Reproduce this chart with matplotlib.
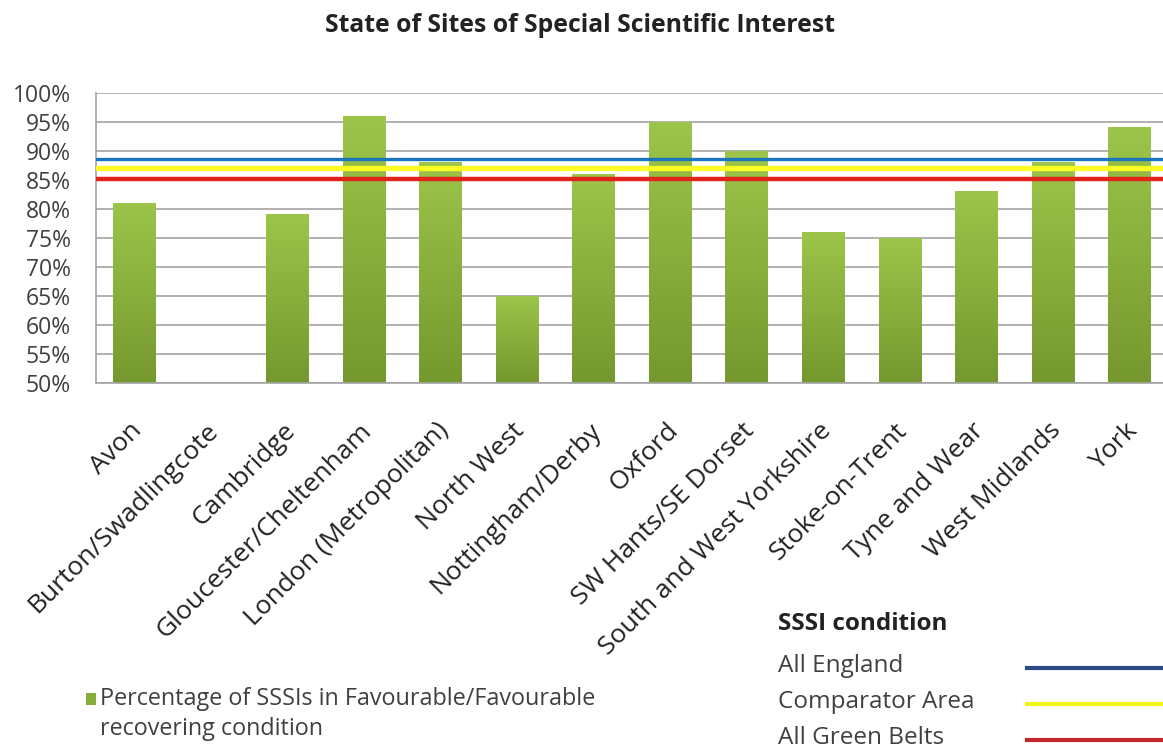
import matplotlib
matplotlib.use("Agg")
import matplotlib.pyplot as plt
import numpy as np
from matplotlib.colors import LinearSegmentedColormap
from matplotlib.lines import Line2D
from matplotlib.patches import Rectangle
from matplotlib.transforms import ScaledTranslation

plt.rcParams["font.family"] = ["Open Sans", "DejaVu Sans"]

# --- data --------------------------------------------------------------------
areas = ["Avon", "Burton/Swadlingcote", "Cambridge", "Gloucester/Cheltenham",
         "London (Metropolitan)", "North West", "Nottingham/Derby", "Oxford",
         "SW Hants/SE Dorset", "South and West Yorkshire", "Stoke-on-Trent",
         "Tyne and Wear", "West Midlands", "York"]
favourable = [81, np.nan, 79, 96, 88, 65, 86, 95, 90, 76, 75, 83, 88, 94]

benchmark_names = ["All England", "Comparator Area", "All Green Belts"]
benchmark_values = [88.7, 87.0, 85.1]

y_ticks = list(range(50, 101, 5))

# --- styling -----------------------------------------------------------------
W, H = 1163, 749
line_colors = ["#1b75bc", "#ffff26", "#e2231a"]
legend_colors = ["#2b4a86", "#f2f21c", "#c1272d"]
line_widths = [2.4, 3.8, 3.2]
text_col = "#404040"
bar_cmap = LinearSegmentedColormap.from_list("bar", ["#9cc54a", "#75982e"])
legend_fs = 17.5

fig = plt.figure(figsize=(W / 100, H / 100), dpi=100)
ax = fig.add_axes([96 / W, 1 - 383 / H, 1072 / W, 290 / H])

x = np.arange(len(areas))
bars = ax.bar(x, np.nan_to_num(favourable, nan=50), width=0.56,
              color="none", zorder=2)

# vertical gradient fill for each bar
grad = np.linspace(0, 1, 256).reshape(-1, 1)
for b, v in zip(bars, favourable):
    if np.isnan(v):
        continue
    x0 = b.get_x()
    ax.imshow(grad, extent=[x0, x0 + b.get_width(), 50, v], origin="upper",
              cmap=bar_cmap, aspect="auto", zorder=2, interpolation="bilinear")

for val, c, lw in zip(benchmark_values, line_colors, line_widths):
    ax.axhline(val, color=c, lw=lw, zorder=3)

ax.set_xlim(-0.5, len(areas) - 0.5)
ax.set_ylim(50, 100)
ax.set_yticks(y_ticks)
ax.set_yticklabels([f"{t}%" for t in y_ticks])
ax.grid(axis="y", color="#a3a3a3", lw=1.2, zorder=1)
ax.set_axisbelow(True)
for s in ["top", "right"]:
    ax.spines[s].set_visible(False)
for s in ["left", "bottom"]:
    ax.spines[s].set_color("#a3a3a3")
    ax.spines[s].set_linewidth(1.2)

ax.tick_params(axis="y", length=0, pad=18, labelsize=16.5, labelcolor=text_col)
ax.tick_params(axis="x", length=0, pad=0)
ax.set_xticks(x)
ax.set_xticklabels(areas, rotation=45, ha="right", va="top",
                   rotation_mode="anchor", fontsize=19, color="#222222")
# shift labels so their top-right end sits just below each bar
shift = ScaledTranslation(-5 / 100, -35 / 100, fig.dpi_scale_trans)
for lbl in ax.get_xticklabels():
    lbl.set_transform(lbl.get_transform() + shift)

fig.text(580 / W, 1 - 26 / H, "State of Sites of Special Scientific Interest",
         ha="center", va="center", fontsize=17.8, fontweight="bold",
         color="#222222")

# --- bar legend (bottom left) -----------------------------------------------
fig.add_artist(Rectangle((86 / W, 1 - 705 / H), 10 / W, 12 / H,
                         transform=fig.transFigure, facecolor="#86ad3a",
                         edgecolor="none"))
fig.text(100 / W, 1 - 699 / H, "Percentage of SSSIs in Favourable/Favourable",
         ha="left", va="center", fontsize=16.8, color=text_col)
fig.text(100 / W, 1 - 729 / H, "recovering condition",
         ha="left", va="center", fontsize=16.8, color=text_col)

# --- line legend (bottom right) ---------------------------------------------
fig.text(778 / W, 1 - 624 / H, "SSSI condition", ha="left", va="center",
         fontsize=legend_fs, fontweight="bold", color="#222222")
for i, (name, c) in enumerate(zip(benchmark_names, legend_colors)):
    yy = 1 - (666 + 36 * i) / H
    fig.text(778 / W, yy, name, ha="left", va="center", fontsize=legend_fs,
             color=text_col)
    fig.add_artist(Line2D([1027 / W, 1.0], [yy - 2 / H, yy - 2 / H],
                          transform=fig.transFigure, color=c, lw=3))

fig.savefig("out.png", dpi=100)
